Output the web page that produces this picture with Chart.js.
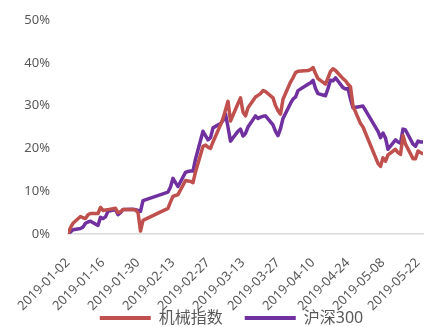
<!DOCTYPE html>
<html>
<head>
<meta charset="utf-8">
<script src="https://cdn.jsdelivr.net/npm/chart.js@4.4.1/dist/chart.umd.min.js"></script>
<style>
  html, body { margin: 0; padding: 0; background: #fff; }
  #wrap { width: 424px; height: 327px; position: relative; }
</style>
</head>
<body>
<div id="wrap"><canvas id="chart"></canvas></div>
<script>
// 交易日
const dates = [
  '2019-01-02','2019-01-03','2019-01-04','2019-01-07','2019-01-08','2019-01-09','2019-01-10','2019-01-11',
  '2019-01-14','2019-01-15','2019-01-16','2019-01-17','2019-01-18','2019-01-21','2019-01-22','2019-01-23',
  '2019-01-24','2019-01-25','2019-01-28','2019-01-29','2019-01-30','2019-01-31',
  '2019-02-01','2019-02-11','2019-02-12','2019-02-13','2019-02-14','2019-02-15','2019-02-18','2019-02-19',
  '2019-02-20','2019-02-21','2019-02-22','2019-02-25','2019-02-26','2019-02-27','2019-02-28',
  '2019-03-01','2019-03-04','2019-03-05','2019-03-06','2019-03-07','2019-03-08','2019-03-11','2019-03-12',
  '2019-03-13','2019-03-14','2019-03-15','2019-03-18','2019-03-19','2019-03-20','2019-03-21','2019-03-22',
  '2019-03-25','2019-03-26','2019-03-27','2019-03-28','2019-03-29',
  '2019-04-01','2019-04-02','2019-04-03','2019-04-04','2019-04-08','2019-04-09','2019-04-10','2019-04-11',
  '2019-04-12','2019-04-15','2019-04-16','2019-04-17','2019-04-18','2019-04-19','2019-04-22','2019-04-23',
  '2019-04-24','2019-04-25','2019-04-26','2019-04-29','2019-04-30',
  '2019-05-06','2019-05-07','2019-05-08','2019-05-09','2019-05-10','2019-05-13','2019-05-14','2019-05-15',
  '2019-05-16','2019-05-17','2019-05-20','2019-05-21','2019-05-22','2019-05-23','2019-05-24'
];

// 累计涨幅 (%)
const jixie = [
  0, 1.5, 2.5, 4.1, 3.8, 3.6, 4.5, 4.8, 4.8, 6.2, 5.5, 5.6, 5.7, 6.0, 5.0, 5.2, 5.7, 5.7, 5.7, 5.6, 5.0, 0.7,
  3.2, 6.0, 7.5, 8.8, 9.0, 9.2, 12.5, 12.4, 12.3, 12.0, 14.5, 20.5, 20.8, 20.3, 20.0,
  21.5, 25.5, 27.0, 29.0, 31.0, 26.4, 30.5, 31.8, 28.5, 27.6, 29.5, 32.0, 32.4, 32.8, 33.5, 33.3, 31.8, 30.0, 28.8, 28.0, 31.5,
  35.5, 36.5, 37.7, 38.0, 38.2, 38.4, 38.9, 37.5, 36.3, 35.0, 36.5, 38.0, 38.6, 38.2, 36.3, 35.8, 35.0, 34.4, 29.9, 25.8, 25.0,
  16.5, 15.8, 17.8, 17.0, 18.5, 19.8, 19.0, 18.6, 23.0, 21.0, 17.6, 17.6, 19.4, 19.0, 18.8
];
const hs300 = [
  0, 0.5, 1.0, 1.3, 1.6, 2.5, 2.8, 3.0, 2.0, 3.9, 3.6, 4.0, 5.3, 5.7, 4.5, 5.0, 5.7, 5.7, 5.8, 5.7, 5.5, 5.3,
  7.8, 9.8, 11.0, 13.0, 12.0, 11.1, 14.4, 14.6, 14.7, 14.7, 17.5, 24.0, 23.0, 22.0, 22.5,
  24.8, 25.8, 26.5, 28.0, 25.0, 21.7, 24.0, 24.5, 22.9, 23.5, 25.0, 27.6, 27.0, 27.3, 27.5, 27.6, 25.5, 24.0, 23.0, 24.6, 27.0,
  30.5, 31.5, 32.0, 33.5, 35.0, 35.3, 35.9, 34.0, 32.8, 32.3, 34.0, 35.9, 35.8, 36.5, 34.2, 33.9, 34.0, 31.5, 29.5, 29.8, 29.9,
  24.0, 22.5, 23.6, 22.4, 19.8, 22.0, 21.5, 21.2, 24.5, 24.3, 21.0, 20.5, 21.7, 21.5, 21.5
];

// 横轴刻度（每两周）
const tickDates = [
  '2019-01-02','2019-01-16','2019-01-30','2019-02-13','2019-02-27','2019-03-13',
  '2019-03-27','2019-04-10','2019-04-24','2019-05-08','2019-05-22'
];
const yTicks = [0, 10, 20, 30, 40, 50];

// 日期 -> 距首日天数（日期轴）
const DAY = 86400000;
const t0 = Date.parse(dates[0] + 'T00:00:00Z');
const dayOf = s => Math.round((Date.parse(s + 'T00:00:00Z') - t0) / DAY);

const toPoints = vals => dates.map((d, i) => ({ x: dayOf(d), y: vals[i] }));

const TXT = '#595959';
Chart.defaults.font.family = '"Noto Sans", "Noto Sans CJK SC", sans-serif';
Chart.defaults.color = TXT;

// 斜排日期标签会超出 x 轴高度，放开裁剪；图例整体右移
const layoutTweaks = {
  id: 'layoutTweaks',
  afterLayout(chart) {
    chart.scales.x.bottom = chart.height;
    chart.legend.left += 20;
    chart.legend.right += 20;
  }
};

new Chart(document.getElementById('chart'), {
  type: 'line',
  data: {
    datasets: [
      {
        label: '机械指数',
        data: toPoints(jixie),
        borderColor: '#C0504D',
        backgroundColor: '#C0504D',
        borderWidth: 3.5
      },
      {
        label: '沪深300',
        data: toPoints(hs300),
        borderColor: '#7030A0',
        backgroundColor: '#7030A0',
        borderWidth: 3.5
      }
    ]
  },
  plugins: [layoutTweaks],
  options: {
    responsive: true,
    maintainAspectRatio: false,
    animation: false,
    elements: {
      point: { radius: 0 },
      line: { tension: 0, borderJoinStyle: 'round', borderCapStyle: 'round' }
    },
    layout: { padding: { top: 0, right: 1, left: 0, bottom: -9 } },
    scales: {
      x: {
        type: 'linear',
        min: 0,
        max: dayOf(dates[dates.length - 1]),
        grid: { display: false },
        border: { display: true, color: '#d9d9d9', width: 1.5 },
        afterBuildTicks: s => { s.ticks = tickDates.map(d => ({ value: dayOf(d) })); },
        afterFit: s => { s.height = 54; s.paddingLeft = 0; s.paddingRight = 0; },
        ticks: {
          autoSkip: false,
          minRotation: 45,
          maxRotation: 45,
          padding: 13,
          font: { size: 13 },
          callback: (v, i) => tickDates[i]
        }
      },
      y: {
        min: 0,
        max: 50,
        grid: { display: false, drawTicks: false },
        border: { display: false },
        afterBuildTicks: s => { s.ticks = yTicks.map(v => ({ value: v })); },
        afterFit: s => { s.width = 68; s.paddingTop = 20; s.paddingBottom = 0; },
        ticks: {
          padding: 18,
          font: { size: 13 },
          callback: v => v + '%'
        }
      }
    },
    plugins: {
      legend: {
        position: 'bottom',
        labels: {
          boxWidth: 51,
          boxHeight: 4,
          padding: 22,
          color: TXT,
          font: { size: 16 },
          // 图例用细色条，不描边
          generateLabels: chart => Chart.defaults.plugins.legend.labels.generateLabels(chart)
            .map(item => ({ ...item, lineWidth: 0 }))
        }
      },
      tooltip: { enabled: false }
    }
  }
});
</script>
</body>
</html>
